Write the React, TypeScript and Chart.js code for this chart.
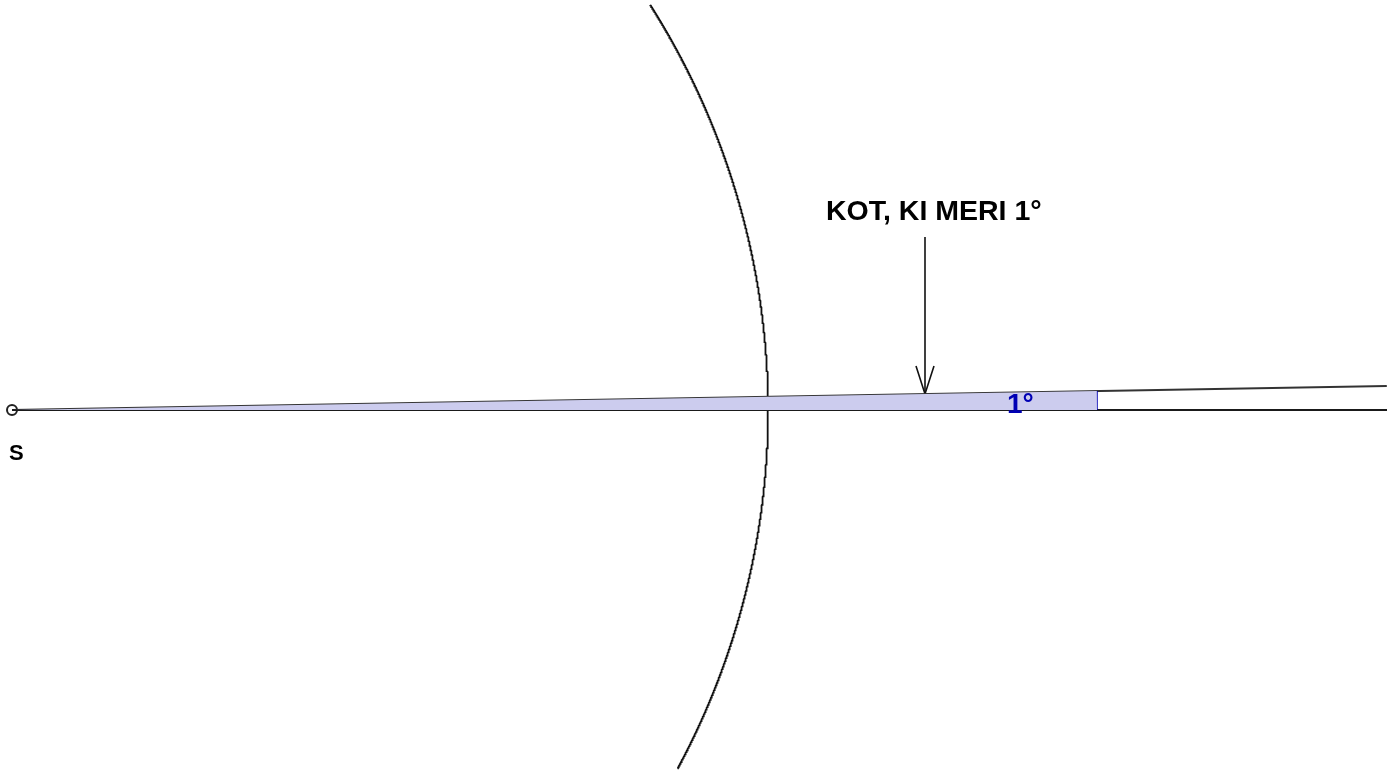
import React, { useEffect, useRef } from "react";
import { Chart, registerables } from "chart.js";

Chart.register(...registerables);

// Geometry (units = pixels, origin at point S, y up)
const viewX = [-12, 1381];
const viewY = [-362, 410];
const centerS = [0, 0];
const circleRadius = 756;
const circleAngles = [-28.3, 32.4]; // visible part, degrees
const sectorRadius = 1085;
const angleDeg = 1;
const rayLength = 1375;
const arrowX = 913;
const arrowTop = 173;
const arrowTip = 16;
const arrowHead = [9, 28];
const titleLabel = "KOT, KI MERI 1°";
const titlePos = [814, 190];
const angleLabel = "1°";
const anglePos = [995, -3];
const pointLabel = "S";
const pointLabelPos = [-3, -50];

const rad = (d: number) => (d * Math.PI) / 180;

function arcPoints(r: number, a0: number, a1: number, step: number) {
  const pts: { x: number; y: number }[] = [];
  const n = Math.max(2, Math.ceil(Math.abs(a1 - a0) / step));
  for (let i = 0; i <= n; i++) {
    const a = a0 + ((a1 - a0) * i) / n;
    pts.push({ x: centerS[0] + r * Math.cos(rad(a)), y: centerS[1] + r * Math.sin(rad(a)) });
  }
  return pts;
}

const labelsPlugin = {
  id: "labels",
  afterDatasetsDraw(chart: any) {
    const { ctx, scales } = chart;
    const px = (v: number) => scales.x.getPixelForValue(v);
    const py = (v: number) => scales.y.getPixelForValue(v);
    ctx.save();
    ctx.fillStyle = "#000";
    ctx.textBaseline = "alphabetic";
    ctx.textAlign = "left";
    ctx.font = "bold 28.5px 'Liberation Sans', Arial, sans-serif";
    ctx.fillText(titleLabel, px(titlePos[0]), py(titlePos[1]));
    ctx.font = "bold 22px 'Liberation Sans', Arial, sans-serif";
    ctx.fillText(pointLabel, px(pointLabelPos[0]), py(pointLabelPos[1]));
    ctx.fillStyle = "#0000b4";
    ctx.font = "bold 28px 'Liberation Sans', Arial, sans-serif";
    ctx.fillText(angleLabel, px(anglePos[0]), py(anglePos[1]));
    ctx.restore();
  },
};

export default function App() {
  const ref = useRef<HTMLCanvasElement | null>(null);
  useEffect(() => {
    document.body.style.margin = "0";
    const canvas = ref.current!;
    const a = rad(angleDeg);
    const sector = [
      { x: centerS[0], y: centerS[1] },
      ...arcPoints(sectorRadius, angleDeg, 0, 0.1),
    ];
    const chart = new Chart(canvas, {
      type: "scatter",
      data: {
        datasets: [
          {
            data: sector,
            showLine: true,
            borderWidth: 0,
            borderColor: "rgba(0,0,0,0)",
            backgroundColor: "rgba(204,204,238,1)",
            fill: { value: 0 },
            pointRadius: 0,
          } as any,
          {
            data: arcPoints(sectorRadius, angleDeg, 0, 0.1),
            showLine: true,
            borderWidth: 1.6,
            borderColor: "#0000b4",
            pointRadius: 0,
          },
          {
            data: [
              { x: centerS[0], y: centerS[1] },
              { x: rayLength, y: 0 },
            ],
            showLine: true,
            borderWidth: 2,
            borderColor: "#1a1a1a",
            pointRadius: 0,
          },
          {
            data: [
              { x: centerS[0], y: centerS[1] },
              { x: rayLength * Math.cos(a), y: rayLength * Math.sin(a) },
            ],
            showLine: true,
            borderWidth: 1.8,
            borderColor: "#333",
            pointRadius: 0,
          },
          {
            data: arcPoints(circleRadius, circleAngles[0], circleAngles[1], 0.05),
            showLine: true,
            borderWidth: 1.8,
            borderColor: "#111",
            pointRadius: 0,
          },
          {
            data: [
              { x: arrowX, y: arrowTop },
              { x: arrowX, y: arrowTip },
            ],
            showLine: true,
            borderWidth: 1.6,
            borderColor: "#111",
            pointRadius: 0,
          },
          {
            data: [
              { x: arrowX - arrowHead[0], y: arrowTip + arrowHead[1] },
              { x: arrowX, y: arrowTip },
              { x: arrowX + arrowHead[0], y: arrowTip + arrowHead[1] },
            ],
            showLine: true,
            borderWidth: 1.6,
            borderColor: "#111",
            pointRadius: 0,
          },
          {
            data: [{ x: centerS[0], y: centerS[1] }],
            pointRadius: 5,
            pointBorderWidth: 2,
            pointBorderColor: "#222",
            pointBackgroundColor: "#fff",
          } as any,
        ],
      },
      options: {
        responsive: false,
        animation: false,
        clip: false,
        layout: { padding: 0, autoPadding: false },
        plugins: { legend: { display: false }, tooltip: { enabled: false } },
        scales: {
          x: { type: "linear", display: false, min: viewX[0], max: viewX[1] },
          y: { type: "linear", display: false, min: viewY[0], max: viewY[1] },
        },
        elements: { line: { tension: 0 } },
      } as any,
      plugins: [labelsPlugin],
    });
    return () => chart.destroy();
  }, []);
  return (
    <canvas
      ref={ref}
      width={1393}
      height={772}
      style={{ position: "absolute", left: 0, top: 0, width: 1393, height: 772 }}
    />
  );
}
